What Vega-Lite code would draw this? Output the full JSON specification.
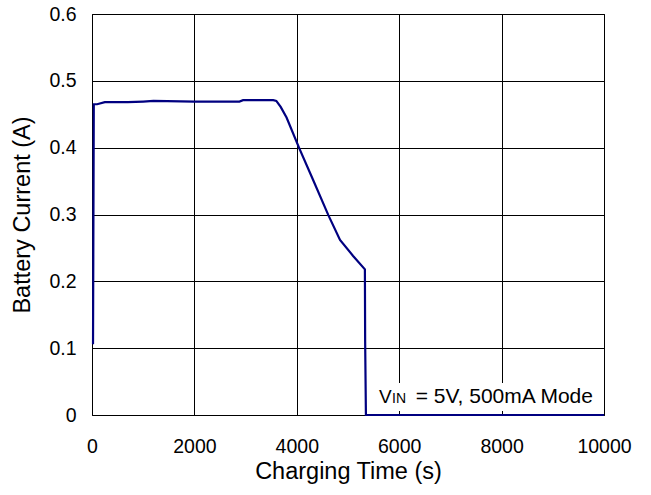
{
  "$schema": "https://vega.github.io/schema/vega-lite/v6.json",
  "width": 512,
  "height": 401,
  "autosize": {"type": "none"},
  "padding": {"left": 92, "top": 14, "right": 47, "bottom": 80},
  "background": "white",
  "config": {
    "view": {"stroke": "#000", "strokeWidth": 1},
    "font": "Liberation Sans",
    "axis": {
      "grid": true,
      "gridColor": "#000",
      "gridOpacity": 1,
      "gridWidth": 1,
      "domain": false,
      "ticks": false,
      "labelFlush": false,
      "labelOverlap": false,
      "labelBound": false,
      "labelFont": "Liberation Sans",
      "labelFontSize": 19.5,
      "labelColor": "#000",
      "titleFont": "Liberation Sans",
      "titleFontSize": 23.5,
      "titleFontWeight": "normal",
      "titleColor": "#000"
    }
  },
  "datasets": {
    "curve": [
      {"i": 0, "t": 20, "a": 0.106},
      {"i": 1, "t": 35, "a": 0.465},
      {"i": 2, "t": 100, "a": 0.465},
      {"i": 3, "t": 250, "a": 0.468},
      {"i": 4, "t": 700, "a": 0.468},
      {"i": 5, "t": 1000, "a": 0.469},
      {"i": 6, "t": 1200, "a": 0.470},
      {"i": 7, "t": 2000, "a": 0.469},
      {"i": 8, "t": 2880, "a": 0.469},
      {"i": 9, "t": 2950, "a": 0.471},
      {"i": 10, "t": 3300, "a": 0.471},
      {"i": 11, "t": 3540, "a": 0.471},
      {"i": 12, "t": 3600, "a": 0.470},
      {"i": 13, "t": 3685, "a": 0.461},
      {"i": 14, "t": 3800, "a": 0.445},
      {"i": 15, "t": 4049, "a": 0.399},
      {"i": 16, "t": 4300, "a": 0.355},
      {"i": 17, "t": 4616, "a": 0.299},
      {"i": 18, "t": 4844, "a": 0.262},
      {"i": 19, "t": 5100, "a": 0.238},
      {"i": 20, "t": 5330, "a": 0.218},
      {"i": 21, "t": 5335, "a": 0.11},
      {"i": 22, "t": 5350, "a": 0.0},
      {"i": 23, "t": 10000, "a": 0.0}
    ],
    "box": [{"x1": 5450, "x2": 9990, "y1": 0.006, "y2": 0.048}],
    "t1": [{"t": 5605, "a": 0.018, "label": "V"}],
    "t2": [{"t": 5860, "a": 0.018, "label": "IN"}],
    "t3": [{"t": 9785, "a": 0.018, "label": "= 5V, 500mA Mode"}]
  },
  "layer": [
    {
      "data": {"name": "curve"},
      "mark": {"type": "line", "color": "#000080", "strokeWidth": 2.2, "clip": false},
      "encoding": {
        "x": {
          "field": "t", "type": "quantitative",
          "scale": {"domain": [0, 10000], "nice": false},
          "axis": {"values": [0, 2000, 4000, 6000, 8000, 10000], "format": "d", "labelPadding": 22, "title": "Charging Time (s)", "titleY": 63, "titleBaseline": "alphabetic"}
        },
        "y": {
          "field": "a", "type": "quantitative",
          "scale": {"domain": [0, 0.6], "nice": false},
          "axis": {"values": [0, 0.1, 0.2, 0.3, 0.4, 0.5, 0.6], "format": "~g", "labelPadding": 16, "title": "Battery Current (A)", "titleX": -70, "titleBaseline": "middle"}
        },
        "order": {"field": "i", "type": "quantitative"}
      }
    },
    {
      "data": {"name": "box"},
      "mark": {"type": "rect", "color": "white", "opacity": 1},
      "encoding": {
        "x": {"field": "x1", "type": "quantitative"},
        "x2": {"field": "x2"},
        "y": {"field": "y1", "type": "quantitative"},
        "y2": {"field": "y2"}
      }
    },
    {
      "data": {"name": "t1"},
      "mark": {"type": "text", "align": "left", "baseline": "alphabetic", "fontSize": 19, "color": "#000"},
      "encoding": {
        "x": {"field": "t", "type": "quantitative"},
        "y": {"field": "a", "type": "quantitative"},
        "text": {"field": "label"}
      }
    },
    {
      "data": {"name": "t2"},
      "mark": {"type": "text", "align": "left", "baseline": "alphabetic", "fontSize": 14, "color": "#000"},
      "encoding": {
        "x": {"field": "t", "type": "quantitative"},
        "y": {"field": "a", "type": "quantitative"},
        "text": {"field": "label"}
      }
    },
    {
      "data": {"name": "t3"},
      "mark": {"type": "text", "align": "right", "baseline": "alphabetic", "fontSize": 21, "color": "#000"},
      "encoding": {
        "x": {"field": "t", "type": "quantitative"},
        "y": {"field": "a", "type": "quantitative"},
        "text": {"field": "label"}
      }
    }
  ]
}
